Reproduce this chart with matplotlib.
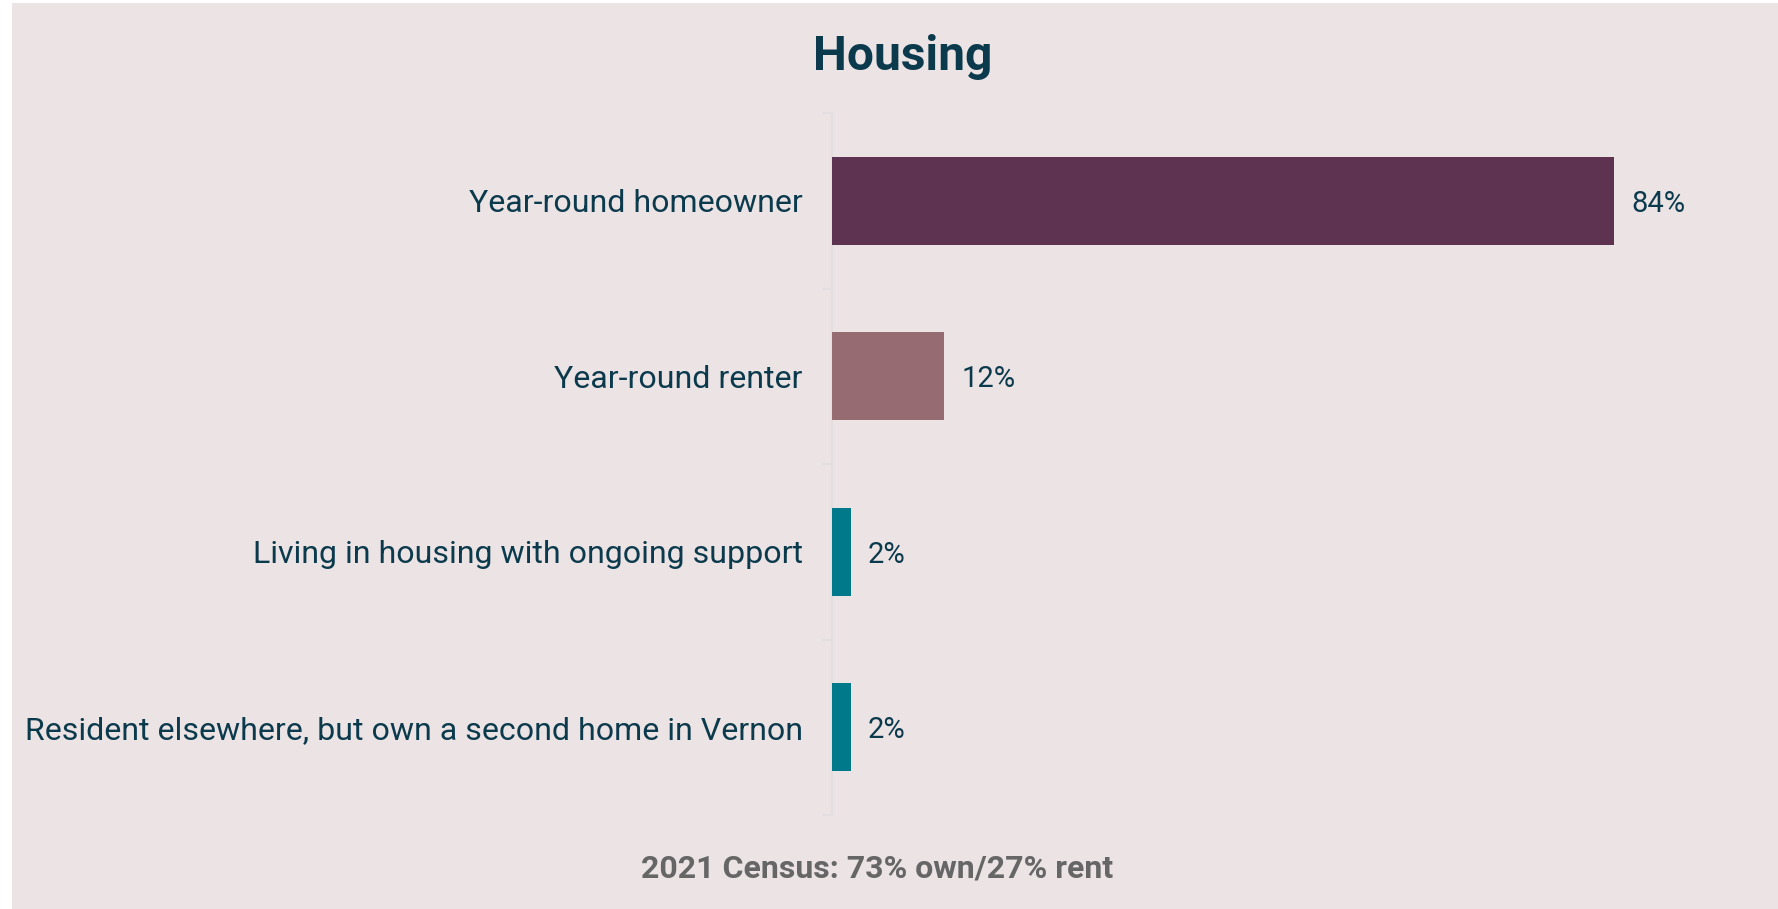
import matplotlib

matplotlib.use("Agg")
import matplotlib.pyplot as plt
from matplotlib.patches import Rectangle
import numpy as np

# --------- Data ---------
categories = [
    "Year-round homeowner",
    "Year-round renter",
    "Living in housing with ongoing support",
    "Resident elsewhere, but own a second home in Vernon",
]
shares = [84, 12, 2, 2]
bar_colors = ["#5E3352", "#966B71", "#007A8A", "#007A8A"]
title = "Housing"
footnote = "2021 Census: 73% own/27% rent"

BG = "#EBE3E4"
TEXT = "#0C3A4D"
SPINE = "#E3DEDF"

plt.rcParams["font.family"] = ["Roboto", "DejaVu Sans"]

W, H = 1778, 909
fig = plt.figure(figsize=(W / 100, H / 100), dpi=100)
fig.patch.set_facecolor("white")
# pink panel (small white margin at top and left in the original)
fig.patches.append(Rectangle((12 / W, 0), 1 - 12 / W, 1 - 3 / H,
                             transform=fig.transFigure, facecolor=BG,
                             edgecolor="none", zorder=-1))

ax = fig.add_axes([832 / W, 1 - 815 / H, (1740 - 832) / W, (815 - 113) / H])
ax.set_facecolor("none")
ax.set_zorder(2)

y = np.arange(len(categories))
ax.barh(y, shares, height=0.5, color=bar_colors, zorder=3)
ax.set_ylim(3.5, -0.5)
ax.set_xlim(0, 97.5)

for yi, v in zip(y, shares):
    ax.annotate(f"{v}%", (v, yi), xytext=(12.5, -2), textcoords="offset points",
                va="center", ha="left", fontsize=21, color=TEXT)

ax.set_yticks(y)
ax.set_yticklabels(categories, fontsize=23.1, color=TEXT)
ax.tick_params(axis="y", which="major", length=0, pad=21)
ax.set_yticks(np.arange(-0.5, len(categories)), minor=True)
ax.tick_params(axis="y", which="minor", length=7, width=1.5, color=SPINE)
ax.set_xticks([])

for side in ["top", "right", "bottom"]:
    ax.spines[side].set_visible(False)
ax.spines["left"].set_color(SPINE)
ax.spines["left"].set_linewidth(1.5)

fig.text(903 / W, 1 - 70 / H, title, ha="center", va="baseline",
         fontsize=34.5, fontweight="bold", color=TEXT)
fig.text(877 / W, 1 - 878 / H, footnote, ha="center", va="baseline",
         fontsize=23, fontweight="bold", color="#666666")

fig.savefig("out.png", dpi=100, facecolor=fig.get_facecolor())
